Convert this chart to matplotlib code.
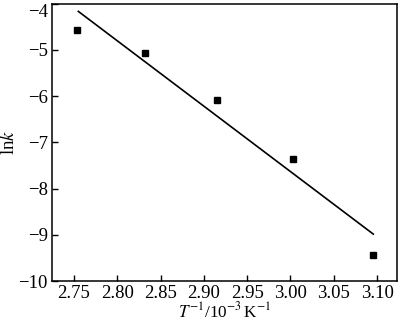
import matplotlib
matplotlib.use("Agg")
import matplotlib.pyplot as plt

# data
inv_T = [2.7535, 2.832, 2.9148, 3.003, 3.0956]
ln_k = [-4.565, -5.07, -6.087, -7.35, -9.43]
fit_x = [2.755, 3.0956]
fit_y = [-4.167, -8.985]
xticks = [2.75, 2.80, 2.85, 2.90, 2.95, 3.00, 3.05, 3.10]
yticks = [-10, -9, -8, -7, -6, -5, -4]

plt.rcParams['font.family'] = ['Liberation Serif', 'DejaVu Serif']
plt.rcParams['mathtext.fontset'] = 'stix'

fig = plt.figure(figsize=(4.0, 3.21), dpi=100)
ax = fig.add_axes([0.13, 0.1246, 0.8625, 0.864])
ax.plot(fit_x, fit_y, color='black', lw=1.2)
ax.plot(inv_T, ln_k, linestyle='none', marker='s', color='black', markersize=4.5)
ax.set_xlim(2.7246, 3.123)
ax.set_ylim(-10, -4)
ax.set_xticks(xticks)
ax.set_xticklabels([f"{t:.2f}" for t in xticks])
ax.set_yticks(yticks)
ax.set_yticklabels([f"\u2212{abs(t)}" for t in yticks])
ax.tick_params(direction='in', length=4, width=1, labelsize=13.5, pad=3)
ax.get_yticklabels()[-1].set_verticalalignment('top')
for s in ax.spines.values():
    s.set_linewidth(1.1)
ax.set_xlabel(r"$T^{-1}$/10$^{-3}\,$K$^{-1}$", fontsize=12.3, labelpad=-0.5)
ax.set_ylabel(r"ln$k$", fontsize=13.5, labelpad=0.5)
fig.savefig("out.png", dpi=100)
